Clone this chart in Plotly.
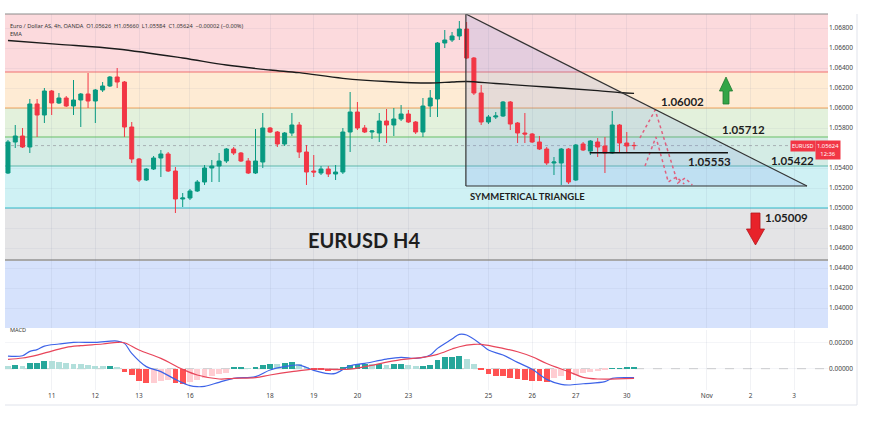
import plotly.graph_objects as go

# ---------------- DATA ----------------
bar_index = list(range(87))
open_ = [1.0535, 1.0566, 1.0572, 1.0561, 1.0604, 1.0593, 1.0617, 1.0605, 1.0610, 1.0602,
         1.0608, 1.0614, 1.0607, 1.0618, 1.0622, 1.0631, 1.0626, 1.0581, 1.0549, 1.0528,
         1.0539, 1.0550, 1.0554, 1.0537, 1.0509, 1.0510, 1.0517, 1.0526, 1.0540, 1.0542,
         1.0547, 1.0559, 1.0555, 1.0547, 1.0535, 1.0546, 1.0580, 1.0576, 1.0564, 1.0575,
         1.0583, 1.0556, 1.0537, 1.0535, 1.0539, 1.0534, 1.0536, 1.0576, 1.0596, 1.0580,
         1.0576, 1.0575, 1.0587, 1.0583, 1.0589, 1.0594, 1.0586, 1.0576, 1.0602, 1.0609,
         1.0665, 1.0668, 1.0672, 1.0679, 1.0650, 1.0615, 1.0586, 1.0591, 1.0592, 1.0606,
         1.0585, 1.0575, 1.0574, 1.0566, 1.0559, 1.0545, 1.0545, 1.0559, 1.0528, 1.0564,
         1.0557, 1.0566, 1.0562, 1.0555, 1.0583, 1.0565, 1.05626]
high = [1.0568, 1.0583, 1.0580, 1.0609, 1.0609, 1.0620, 1.0618, 1.0615, 1.0612, 1.0628,
        1.0615, 1.0635, 1.0619, 1.0626, 1.0632, 1.0640, 1.0627, 1.0586, 1.0550, 1.0540,
        1.0552, 1.0558, 1.0556, 1.0541, 1.0515, 1.0519, 1.0528, 1.0543, 1.0548, 1.0555,
        1.0560, 1.0561, 1.0556, 1.0550, 1.0579, 1.0595, 1.0581, 1.0577, 1.0576, 1.0595,
        1.0586, 1.0563, 1.0553, 1.0542, 1.0542, 1.0543, 1.0580, 1.0616, 1.0606, 1.0583,
        1.0578, 1.0595, 1.0599, 1.0600, 1.0603, 1.0598, 1.0587, 1.0610, 1.0618, 1.0666,
        1.0678, 1.0676, 1.0687, 1.0686, 1.0651, 1.0623, 1.0593, 1.0596, 1.0607, 1.0607,
        1.0586, 1.0595, 1.0575, 1.0572, 1.0561, 1.0551, 1.0560, 1.0560, 1.0564, 1.0566,
        1.0568, 1.0570, 1.0571, 1.0597, 1.0584, 1.0576, 1.05660]
low = [1.0534, 1.0560, 1.0560, 1.0555, 1.0571, 1.0585, 1.0593, 1.0604, 1.0601, 1.0593,
       1.0581, 1.0600, 1.0585, 1.0616, 1.0621, 1.0620, 1.0571, 1.0545, 1.0526, 1.0527,
       1.0538, 1.0531, 1.0536, 1.0495, 1.0501, 1.0508, 1.0516, 1.0523, 1.0526, 1.0526,
       1.0545, 1.0553, 1.0546, 1.0534, 1.0534, 1.0540, 1.0575, 1.0561, 1.0562, 1.0572,
       1.0550, 1.0523, 1.0531, 1.0533, 1.0531, 1.0528, 1.0534, 1.0556, 1.0578, 1.0575,
       1.0569, 1.0566, 1.0565, 1.0572, 1.0587, 1.0585, 1.0574, 1.0571, 1.0591, 1.0591,
       1.0660, 1.0666, 1.0668, 1.0649, 1.0613, 1.0583, 1.0584, 1.0589, 1.0591, 1.0578,
       1.0565, 1.0565, 1.0565, 1.0558, 1.0543, 1.0533, 1.0523, 1.0524, 1.0527, 1.0557,
       1.0553, 1.0551, 1.0535, 1.0554, 1.0556, 1.0556, 1.05584]
close = [1.0566, 1.0572, 1.0561, 1.0604, 1.0593, 1.0617, 1.0605, 1.0610, 1.0602, 1.0608,
         1.0614, 1.0607, 1.0618, 1.0622, 1.0631, 1.0626, 1.0581, 1.0549, 1.0528, 1.0539,
         1.0550, 1.0554, 1.0537, 1.0509, 1.0510, 1.0517, 1.0526, 1.0540, 1.0542, 1.0547,
         1.0559, 1.0555, 1.0547, 1.0535, 1.0547, 1.0580, 1.0576, 1.0564, 1.0575, 1.0583,
         1.0556, 1.0536, 1.0536, 1.0539, 1.0534, 1.0536, 1.0576, 1.0596, 1.0580, 1.0576,
         1.0577, 1.0587, 1.0583, 1.0589, 1.0594, 1.0586, 1.0576, 1.0602, 1.0610, 1.0665,
         1.0668, 1.0672, 1.0679, 1.0650, 1.0615, 1.0586, 1.0591, 1.0592, 1.0606, 1.0584,
         1.0575, 1.0574, 1.0566, 1.0559, 1.0545, 1.0546, 1.0559, 1.0526, 1.0563, 1.0558,
         1.0567, 1.0561, 1.0555, 1.0583, 1.0565, 1.0562, 1.05624]

tick_bars = [6, 12, 18, 25, 36, 42, 48, 55, 66, 72, 78, 85, 96, 102, 108]
tick_text = ["11", "12", "13", "16", "18", "19", "20", "23", "25", "26", "27", "30", "Nov", "2", "3"]
price_ticks = [1.068, 1.066, 1.064, 1.062, 1.060, 1.058, 1.054, 1.052, 1.050,
               1.048, 1.046, 1.044, 1.042, 1.040]

ema_bars = [0, 7, 15, 24, 30, 36, 40, 46, 52, 58, 61, 63, 67, 74, 81, 84, 86]
ema_vals = [1.06675, 1.06637, 1.0659, 1.0650, 1.0643, 1.0638, 1.06353, 1.06297, 1.06265,
            1.0625, 1.0626, 1.06265, 1.06245, 1.0621, 1.06173, 1.06155, 1.06147]

hist = [0.00021, 0.00026, 0.00018, 0.00041, 0.00047, 0.00062, 0.00060, 0.00052, 0.00044, 0.00036,
        0.00034, 0.00026, 0.00023, 0.00018, 0.00021, 0.00016, -0.00023, -0.00049, -0.00096, -0.00114,
        -0.00109, -0.00096, -0.00088, -0.00114, -0.00117, -0.00106, -0.00091, -0.00075, -0.00057, -0.00044,
        -0.00031, 0.00010, 0.00013, 0.00005, 0.00010, 0.00028, 0.00039, 0.00034, 0.00047, 0.00049,
        0.00034, 0.00008, -0.00005, -0.00013, -0.00018, -0.00016, 0.00010, 0.00028, 0.00034, 0.00036,
        0.00034, 0.00036, 0.00028, 0.00039, 0.00040, 0.00028, 0.00018, 0.00023, 0.00031, 0.00067,
        0.00088, 0.00093, 0.00098, 0.00075, 0.00036, -0.00010, -0.00041, -0.00057, -0.00057, -0.00070,
        -0.00083, -0.00088, -0.00093, -0.00096, -0.00101, -0.00075, -0.00057, -0.00088, -0.00049, -0.00036,
        -0.00023, -0.00016, -0.00008, 0.00004, 0.00005, 0.00006, 0.00008]

macd_bars = [0, 2, 3, 4, 5, 7, 9, 12, 15, 16, 17, 19, 21, 23, 25, 26, 27, 29, 31, 34, 36, 38, 40,
             42, 44, 45, 47, 49, 52, 54, 56, 58, 59, 61, 62, 63, 65, 66, 68, 70, 72, 74, 76, 77,
             79, 82, 83, 86]
macd_vals = [0.00098, 0.00101, 0.00135, 0.00148, 0.00176, 0.00192, 0.00205, 0.00205, 0.00215,
             0.00197, 0.00119, 0.00016, -0.00023, -0.00083, -0.00132, -0.00140, -0.00137, -0.00106,
             -0.00075, -0.00062, -0.00010, 0.00016, 0.00028, -0.00013, -0.00039, -0.00036, 0.00023,
             0.00041, 0.00075, 0.00088, 0.00080, 0.00106, 0.00158, 0.00231, 0.00267, 0.00262,
             0.00189, 0.00145, 0.00106, 0.00049, -0.00005, -0.00083, -0.00122, -0.00127, -0.00117,
             -0.00101, -0.00075, -0.00070]
signal_bars = [0, 2, 4, 6, 8, 10, 13, 15, 16, 18, 21, 24, 26, 29, 31, 34, 36, 39, 42, 45, 47, 49,
               54, 57, 59, 61, 62, 64, 65, 68, 70, 72, 74, 77, 79, 81, 86]
signal_vals = [0.00073, 0.00083, 0.00106, 0.00137, 0.00166, 0.00179, 0.00192, 0.00205, 0.00202,
               0.00145, 0.00080, -0.00005, -0.00049, -0.00080, -0.00075, -0.00070, -0.00049,
               -0.00023, -0.00003, -0.00005, -0.00003, 0.00016, 0.00070, 0.00088, 0.00111,
               0.00153, 0.00171, 0.00189, 0.00189, 0.00158, 0.00132, 0.00093, 0.00041, -0.00023,
               -0.00067, -0.00080, -0.00075]

# Fibonacci-like zone boundaries (price) and fills
zone_edges = [1.0694, 1.0636, 1.0600, 1.0571, 1.0542, 1.0500, 1.0448, 1.0380]
zone_fills = ["#fcdadd", "#feebd4", "#e3f1dc", "#d4ece5", "#cff1f4", "#e4e4e6", "#d6e2fc"]
zone_lines = [(1.0636, "#ef7070", 1), (1.0600, "#f2a35a", 1), (1.0571, "#8fcf8f", 1.6),
              (1.0542, "#5fb8ab", 1), (1.0500, "#2fbcc9", 1.2), (1.0448, "#a8a8a8", 2)]

# Pattern drawing (bar index, price)
tri_x = [62.9, 62.9, 109.75]
tri_y = [1.0694, 1.0522, 1.0522]
support_line = ([79.9, 98.9], [1.05553, 1.05553])
proj_a_x = [86.8, 88.9, 92.0, 93.0, 94.0]
proj_a_y = [1.0570, 1.0598, 1.0525, 1.0530, 1.0523]
proj_b_x = [87.5, 89.0, 90.7, 91.8, 92.9]
proj_b_y = [1.0542, 1.0571, 1.0526, 1.0531, 1.0524]

level_labels = ["1.06002", "1.05712", "1.05553", "1.05422", "1.05009"]
level_label_x = [92.6, 101.0, 96.4, 107.7, 107.0]
level_label_y = [1.0607, 1.0579, 1.0547, 1.0548, 1.0491]

last_price = 1.05624

UP = "#089981"
DN = "#f23645"

# ---------------- FIGURE ----------------
W, H = 870, 422
ML, MR, MT, MB = 5, 42, 14, 32
PW, PH = W - ML - MR, H - MT - MB


def px(xp):
    return (xp - ML) / PW


def py(yp):
    return (H - MB - yp) / PH


fig = go.Figure()

fig.add_trace(go.Candlestick(
    x=bar_index, open=open_, high=high, low=low, close=close,
    increasing=dict(line=dict(color=UP, width=1), fillcolor=UP),
    decreasing=dict(line=dict(color=DN, width=1), fillcolor=DN),
    whiskerwidth=0, xaxis="x", yaxis="y", showlegend=False, hoverinfo="skip"))

fig.add_trace(go.Scatter(x=ema_bars, y=ema_vals, mode="lines", xaxis="x", yaxis="y",
                         line=dict(color="#1b1b1b", width=1.3, shape="spline"),
                         showlegend=False, hoverinfo="skip"))

for xs, ys in [(proj_a_x, proj_a_y), (proj_b_x, proj_b_y)]:
    fig.add_trace(go.Scatter(x=xs, y=ys, mode="lines", xaxis="x", yaxis="y",
                             line=dict(color="#e0607e", width=1.5, dash="dot"),
                             showlegend=False, hoverinfo="skip"))

fig.add_trace(go.Scatter(x=support_line[0], y=support_line[1], mode="lines", xaxis="x", yaxis="y",
                         line=dict(color="#111111", width=1.6), showlegend=False, hoverinfo="skip"))

# MACD histogram colours (TradingView rule)
hcol = []
for i, h in enumerate(hist):
    prev = hist[i - 1] if i > 0 else h
    if h >= 0:
        hcol.append("#26a69a" if prev < h else "#b2dfdb")
    else:
        hcol.append("#ffcdd2" if prev < h else "#ff5252")

fig.add_trace(go.Bar(x=bar_index, y=hist, marker=dict(color=hcol, line=dict(width=0)), width=0.8,
                     xaxis="x2", yaxis="y2", showlegend=False, hoverinfo="skip"))
fig.add_trace(go.Scatter(x=macd_bars, y=macd_vals, mode="lines", xaxis="x2", yaxis="y2",
                         line=dict(color="#3d63e8", width=1.2, shape="spline"),
                         showlegend=False, hoverinfo="skip"))
fig.add_trace(go.Scatter(x=signal_bars, y=signal_vals, mode="lines", xaxis="x2", yaxis="y2",
                         line=dict(color="#e8455a", width=1.2, shape="spline"),
                         showlegend=False, hoverinfo="skip"))

shapes = []
for k, col in enumerate(zone_fills):
    shapes.append(dict(type="rect", xref="paper", yref="y", x0=0, x1=1,
                       y0=zone_edges[k + 1], y1=zone_edges[k], fillcolor=col,
                       line=dict(width=0), layer="below"))
for lv, col, wdt in zone_lines:
    shapes.append(dict(type="line", xref="paper", yref="y", x0=0, x1=1, y0=lv, y1=lv,
                       line=dict(color=col, width=wdt), layer="below"))
# current price dashed line
shapes.append(dict(type="line", xref="paper", yref="y", x0=0, x1=1, y0=last_price, y1=last_price,
                   line=dict(color="#9aa0a6", width=0.8, dash="dot"), layer="below"))
# triangle fill and edges
tri_path = "M {0},{1} L {2},{3} L {4},{5} Z".format(tri_x[0], tri_y[0], tri_x[1], tri_y[1],
                                                     tri_x[2], tri_y[2])
shapes.append(dict(type="path", xref="x", yref="y", path=tri_path,
                   fillcolor="rgba(110,140,230,0.17)", line=dict(width=0), layer="below"))
for a, b in [(0, 1), (1, 2), (0, 2)]:
    shapes.append(dict(type="line", xref="x", yref="y", x0=tri_x[a], y0=tri_y[a],
                       x1=tri_x[b], y1=tri_y[b], line=dict(color="#333333", width=1.2)))
# top border
shapes.append(dict(type="line", xref="paper", yref="paper", x0=0, x1=1, y0=py(14), y1=py(14),
                   line=dict(color="#8a8a8a", width=1)))
# arrows (bar index / price)
up_c, up_hw, up_sw = 98.63, 0.9, 0.41
up_path = ("M {c},1.0631 L {r},1.0617 L {rs},1.0617 L {rs},1.0604 L {ls},1.0604 "
           "L {ls},1.0617 L {l},1.0617 Z").format(c=up_c, r=up_c + up_hw, l=up_c - up_hw,
                                                  rs=up_c + up_sw, ls=up_c - up_sw)
shapes.append(dict(type="path", xref="x", yref="y", path=up_path, fillcolor="#34a547",
                   line=dict(color="#1f7a30", width=0.8)))
dn_c, dn_hw, dn_sw = 102.68, 1.24, 0.62
dn_path = ("M {c},1.0463 L {r},1.0479 L {rs},1.0479 L {rs},1.0495 L {ls},1.0495 "
           "L {ls},1.0479 L {l},1.0479 Z").format(c=dn_c, r=dn_c + dn_hw, l=dn_c - dn_hw,
                                                  rs=dn_c + dn_sw, ls=dn_c - dn_sw)
shapes.append(dict(type="path", xref="x", yref="y", path=dn_path, fillcolor="#e8222a",
                   line=dict(color="#b5161c", width=0.8)))
# MACD zero line
shapes.append(dict(type="line", xref="paper", yref="y2", x0=0, x1=1, y0=0, y1=0,
                   line=dict(color="#c4c4c4", width=0.8, dash="dash"), layer="below"))
# outer frame
shapes.append(dict(type="line", xref="paper", yref="paper", x0=px(5), x1=px(857), y0=py(405),
                   y1=py(405), line=dict(color="#e0e3eb", width=1)))
shapes.append(dict(type="line", xref="paper", yref="paper", x0=px(857), x1=px(857), y0=py(14),
                   y1=py(405), line=dict(color="#e0e3eb", width=1)))

annotations = []
for t, xx, yy in zip(level_labels, level_label_x, level_label_y):
    annotations.append(dict(x=xx, y=yy, xref="x", yref="y", text="<b>" + t + "</b>",
                            showarrow=False, font=dict(family="Lato", size=11.5, color="#1e1e1e")))
annotations.append(dict(x=71.3, y=1.0512, xref="x", yref="y", text="<b>SYMMETRICAL TRIANGLE</b>",
                        showarrow=False, font=dict(family="Lato", size=9.5, color="#1e1e1e")))
annotations.append(dict(x=40.9, y=1.0468, xref="x", yref="y", text="<b>EURUSD H4</b>",
                        xanchor="left", showarrow=False,
                        font=dict(family="Lato", size=20, color="#1e1e1e")))
annotations.append(dict(x=px(8), y=py(20), xref="paper", yref="paper", xanchor="left",
                        text="Euro / Dollar AS, 4h, OANDA  O1.05626  H1.05660  L1.05584  C1.05624  "
                             "\u22120.00002 (\u22120.00%)",
                        showarrow=False, font=dict(family="Noto Sans", size=5.6, color="#333333")))
annotations.append(dict(x=px(8), y=py(27.5), xref="paper", yref="paper", xanchor="left",
                        text="EMA", showarrow=False,
                        font=dict(family="Noto Sans", size=5.6, color="#333333")))
annotations.append(dict(x=px(8), y=py(335.5), xref="paper", yref="paper", xanchor="left",
                        text="MACD", showarrow=False,
                        font=dict(family="Noto Sans", size=5.6, color="#333333")))
annotations.append(dict(x=px(815.5), y=py(146), xref="paper", yref="paper", text="EURUSD",
                        showarrow=False, bgcolor="#f23645", borderpad=1,
                        font=dict(family="Noto Sans", size=5.5, color="white")))
annotations.append(dict(x=px(841.5), y=py(149.5), xref="paper", yref="paper",
                        text="1.05624<br>12:36", showarrow=False, bgcolor="#f23645", borderpad=1,
                        font=dict(family="Noto Sans", size=5.8, color="white")))

fig.update_layout(
    width=W, height=H, margin=dict(l=ML, r=MR, t=MT, b=MB),
    paper_bgcolor="white", plot_bgcolor="white",
    shapes=shapes, annotations=annotations, bargap=0,
    boxgap=0.22,
    xaxis=dict(domain=[0, 1], range=[-0.41, 112.64], anchor="y", tickvals=tick_bars,
               showticklabels=False, showgrid=True, gridcolor="rgba(120,130,160,0.10)",
               zeroline=False, rangeslider=dict(visible=False), fixedrange=True),
    xaxis2=dict(domain=[0, 1], range=[-0.41, 112.64], anchor="y2", matches="x",
                tickvals=tick_bars, ticktext=tick_text, ticks="",
                tickfont=dict(family="Noto Sans", size=6.5, color="#444444"),
                showgrid=True, gridcolor="rgba(120,130,160,0.10)", zeroline=False),
    yaxis=dict(domain=[py(328), 1], range=[1.0380, 1.0694], side="right", anchor="x",
               tickvals=price_ticks, tickformat=".5f", ticks="",
               tickfont=dict(family="Noto Sans", size=6.5, color="#444444"),
               showgrid=True, gridcolor="rgba(120,130,160,0.08)", zeroline=False),
    yaxis2=dict(domain=[0, py(330)], range=[-0.001657, 0.00301], side="right", anchor="x2",
                tickvals=[0, 0.002], tickformat=".5f", ticks="",
                tickfont=dict(family="Noto Sans", size=6.5, color="#444444"),
                showgrid=True, gridcolor="rgba(120,130,160,0.08)", zeroline=False),
)

fig.write_html("out.html", config={"displayModeBar": False},
               post_script="document.body.style.margin='0px';document.body.style.overflow='hidden';")
